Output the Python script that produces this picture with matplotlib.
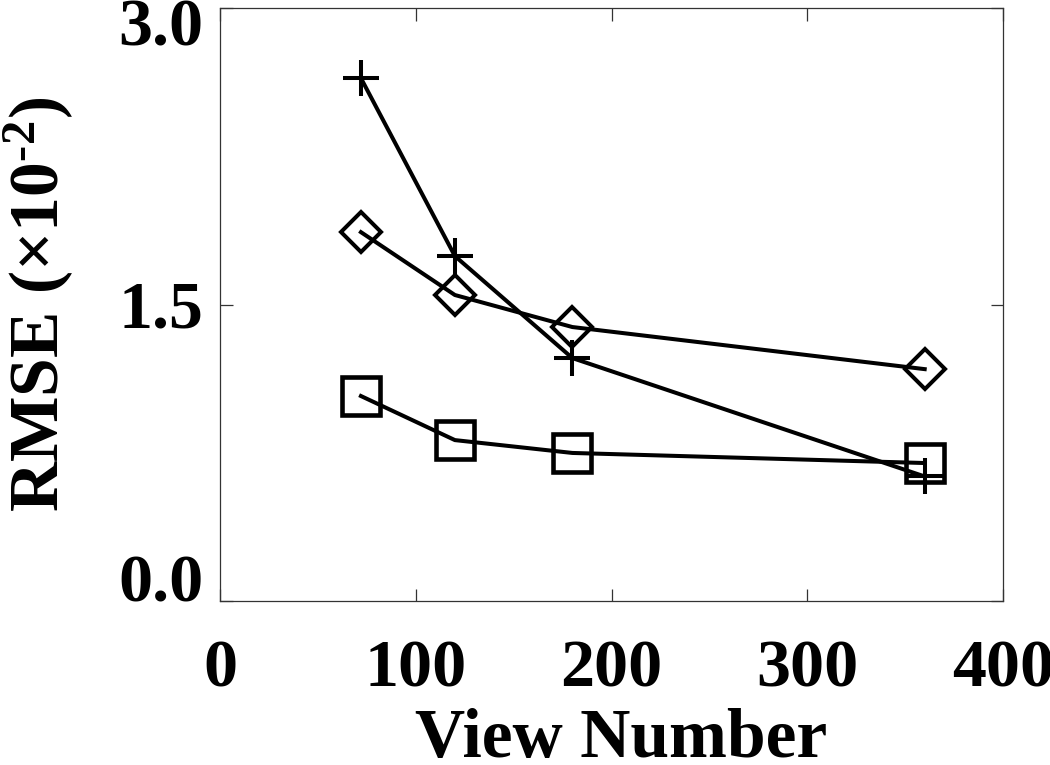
import matplotlib
matplotlib.use("Agg")
import matplotlib.pyplot as plt
from matplotlib.transforms import ScaledTranslation

views = [72, 120, 180, 360]
rmse_plus = [2.645, 1.745, 1.229, 0.63]
rmse_diamond = [1.866, 1.548, 1.386, 1.173]
rmse_square = [1.037, 0.814, 0.749, 0.698]

x_ticks = [0, 100, 200, 300, 400]
y_ticks = [0.0, 1.5, 3.0]
y_tick_labels = ["0.0", "1.5", "3.0"]

plt.rcParams['font.family'] = ['Liberation Serif', 'DejaVu Serif']
plt.rcParams['font.weight'] = 'bold'
plt.rcParams['mathtext.fontset'] = 'custom'
plt.rcParams['mathtext.rm'] = 'Liberation Serif:bold'
plt.rcParams['mathtext.bf'] = 'Liberation Serif:bold'
plt.rcParams['mathtext.it'] = 'Liberation Serif:bold'

fig = plt.figure(figsize=(10.5, 7.65), dpi=100)
ax = fig.add_axes([220/1050, 1-601/765, (1003-220)/1050, (601-8)/765])

lw = 2.9
mew = 2.9
ax.plot(views, rmse_plus, color='black', lw=lw, marker='+', markersize=26.5,
        markeredgewidth=mew)
ax.plot(views, rmse_diamond, color='black', lw=lw, marker='D', markersize=20,
        markerfacecolor='none', markeredgewidth=mew)
ax.plot(views, rmse_square, color='black', lw=lw, marker='s', markersize=28,
        markerfacecolor='none', markeredgewidth=3.3)

ax.set_xlim(0, 400)
ax.set_ylim(0, 3.0)
ax.set_xticks(x_ticks)
ax.set_xticklabels([str(v) for v in x_ticks])
ax.set_yticks(y_ticks)
ax.set_yticklabels(y_tick_labels)

for s in ax.spines.values():
    s.set_linewidth(0.9)
    s.set_color('#333333')

ax.tick_params(axis='both', direction='in', length=9, width=0.9, color='#333333',
               top=True, right=True, labelsize=49)
ax.tick_params(axis='x', pad=28)
ax.tick_params(axis='y', pad=12)

ylabs = ax.get_yticklabels()
ylabs[0].set_verticalalignment('baseline')
ylabs[-1].set_verticalalignment('top')
ylabs[-1].set_transform(ylabs[-1].get_transform() +
                        ScaledTranslation(0, 9/100, fig.dpi_scale_trans))

ax.set_xlabel('View Number', fontsize=50, fontweight='bold')
ax.xaxis.set_label_coords(0.512, -0.180)
ax.xaxis.label.set_verticalalignment('top')
ax.set_ylabel(r'RMSE (×10$^{\text{-2}}$)', fontsize=50, fontweight='bold', labelpad=30)

fig.savefig('out.png', dpi=100)
